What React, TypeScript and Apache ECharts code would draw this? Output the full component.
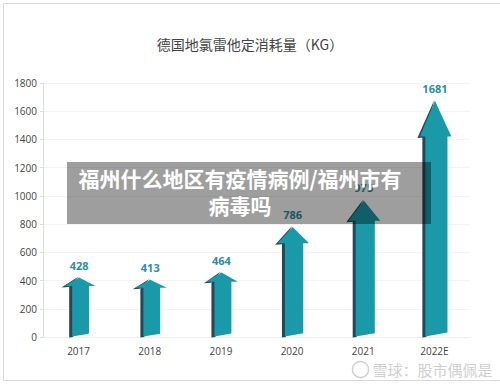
import React, { useEffect, useRef } from "react";
import * as echarts from "echarts";

const categories = ["2017", "2018", "2019", "2020", "2021", "2022E"];
const values = [428, 413, 464, 786, 975, 1681];
const yMin = 0;
const yMax = 1800;
const yInterval = 200;
const titleText = "德国地氯雷他定消耗量（KG）";
const overlayLine1 = "福州什么地区有疫情病例/福州市有";
const overlayLine2 = "病毒吗";
const watermarkText = "雪球：股市偶佩是";

const TEAL = "#1a9aa8";
const DARK = "#26465a";

export default function App() {
  const ref = useRef<HTMLDivElement>(null);
  useEffect(() => {
    if (!ref.current) return;
    const chart = echarts.init(ref.current, null, { renderer: "svg" });
    const option: any = {
      animation: false,
      backgroundColor: "#ffffff",
      title: {
        text: titleText,
        left: "center",
        top: 32,
        textStyle: {
          fontSize: 14,
          fontWeight: "normal",
          color: "#444",
          fontFamily: "Noto Sans CJK SC",
        },
      },
      grid: { left: 43, right: 30, top: 83, bottom: 50 },
      xAxis: {
        type: "category",
        data: categories,
        axisLine: { show: true, lineStyle: { color: "#eeeeee" } },
        axisTick: { show: false },
        axisLabel: {
          color: "#444",
          fontSize: 10,
          fontFamily: "Open Sans",
          margin: 9,
        },
      },
      yAxis: {
        type: "value",
        min: yMin,
        max: yMax,
        interval: yInterval,
        axisLine: { show: true, lineStyle: { color: "#dddddd" } },
        axisTick: { show: true, length: 3, lineStyle: { color: "#dddddd" } },
        splitLine: { lineStyle: { color: "#f3f3f3" } },
        axisLabel: {
          color: "#444",
          fontSize: 10,
          fontFamily: "Open Sans",
          margin: 6,
          formatter: (v: number) => String(v),
        },
      },
      series: [
        {
          type: "custom",
          data: values.map((v, i) => [i, v]),
          renderItem: (params: any, api: any) => {
            const v = api.value(1);
            const tip = api.coord([api.value(0), v]);
            const base = api.coord([api.value(0), 0]);
            const H = base[1] - tip[1];
            const headH = H * 0.155;
            const headW = 33;
            const sw = 15 + H * 0.03;
            const cx = tip[0] + 0.5;
            const hb = tip[1] + headH;
            const l = cx - sw / 2 + 1.5;
            const r = cx + sw / 2 + 1.5;
            const slant = sw * 0.2;
            const d = 3;
            const by = base[1];
            return {
              type: "group",
              children: [
                {
                  type: "polygon",
                  shape: {
                    points: [
                      [l - d, hb - 2],
                      [l + 1, hb - 2],
                      [l + 1, by],
                      [l - d, by + 0.5],
                    ],
                  },
                  style: { fill: DARK },
                },
                {
                  type: "polygon",
                  shape: {
                    points: [
                      [l, hb - 2],
                      [r, hb - 2],
                      [r, by - slant],
                      [l, by - 0.5],
                    ],
                  },
                  style: { fill: TEAL },
                },
                {
                  type: "polygon",
                  shape: {
                    points: [
                      [cx - 0.5, tip[1]],
                      [cx - headW / 2 - 1, hb + 1.5],
                      [cx - headW / 2 + 6, hb + 1],
                    ],
                  },
                  style: { fill: DARK },
                },
                {
                  type: "polygon",
                  shape: {
                    points: [
                      [cx, tip[1] + 1],
                      [cx + headW / 2, hb],
                      [cx - headW / 2 + 1.5, hb],
                    ],
                  },
                  style: { fill: TEAL },
                },
                {
                  type: "text",
                  x: cx,
                  y: tip[1] - 6,
                  style: {
                    text: String(v),
                    align: "center",
                    verticalAlign: "bottom",
                    fill: "#2a8f9e",
                    fontSize: 11,
                    fontWeight: "bold",
                    fontFamily: "Open Sans",
                  },
                },
              ],
            };
          },
        },
      ],
      graphic: [
        {
          type: "rect",
          left: 1,
          top: 1,
          shape: { width: 497, height: 377 },
          style: { fill: "none", stroke: "#d9d9d9", lineWidth: 1 },
          z: 5,
        },
        {
          type: "group",
          left: 350,
          top: 359,
          z: 20,
          children: [
            {
              type: "circle",
              shape: { cx: 9, cy: 9, r: 8 },
              style: { fill: "none", stroke: "#d0d0d0", lineWidth: 1.5 },
            },
            {
              type: "text",
              x: 21,
              y: 9,
              style: {
                text: watermarkText,
                fill: "#cfcfcf",
                fontSize: 15,
                fontFamily: "Noto Sans CJK SC",
                verticalAlign: "middle",
              },
            },
          ],
        },
        {
          type: "rect",
          left: 67,
          top: 162,
          shape: { width: 364, height: 62 },
          style: { fill: "rgba(0,0,0,0.38)" },
          z: 30,
        },
        {
          type: "text",
          x: 240,
          y: 178,
          z: 31,
          style: {
            text: overlayLine1,
            align: "center",
            verticalAlign: "middle",
            fill: "#ffffff",
            fontSize: 21,
            fontWeight: "bold",
            fontFamily: "Noto Sans CJK SC",
          },
        },
        {
          type: "text",
          x: 240,
          y: 205,
          z: 31,
          style: {
            text: overlayLine2,
            align: "center",
            verticalAlign: "middle",
            fill: "#ffffff",
            fontSize: 21,
            fontWeight: "bold",
            fontFamily: "Noto Sans CJK SC",
          },
        },
      ],
    };
    chart.setOption(option);
    return () => chart.dispose();
  }, []);
  return (
    <div
      ref={ref}
      style={{ position: "fixed", left: 0, top: 0, width: 500, height: 387 }}
    />
  );
}
